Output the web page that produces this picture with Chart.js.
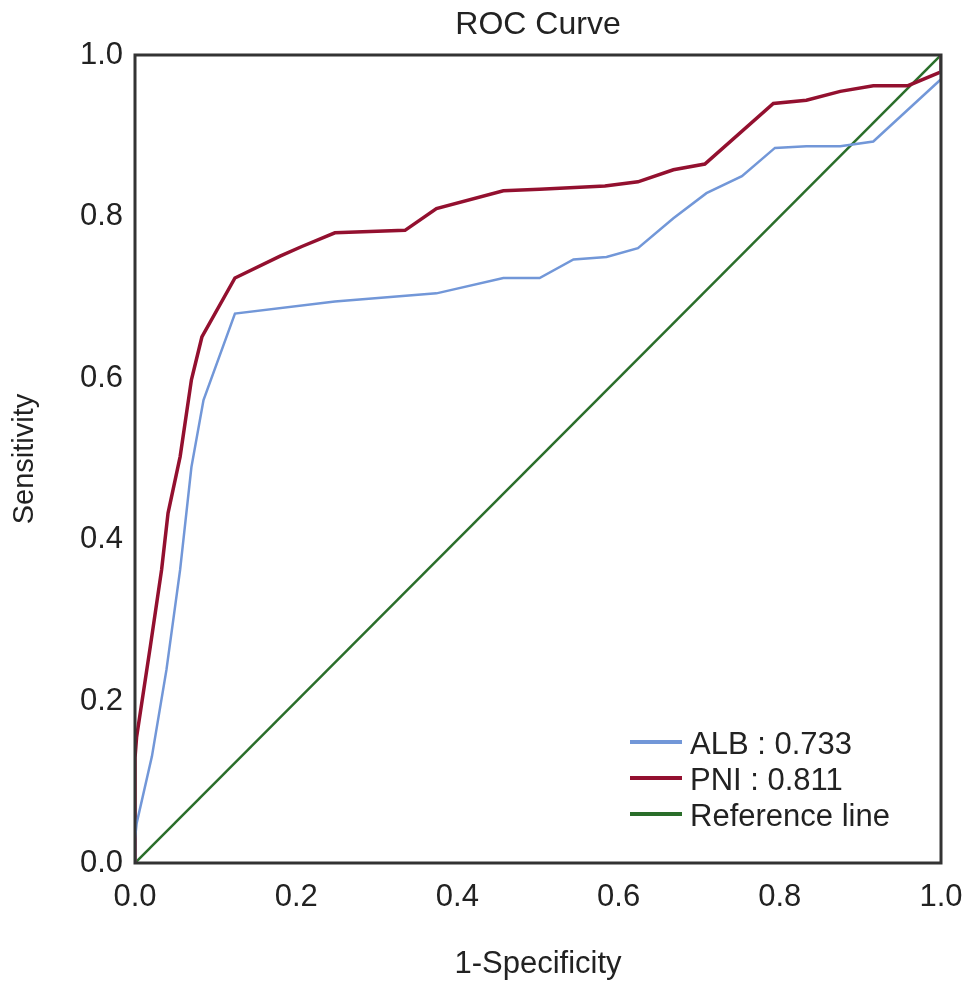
<!DOCTYPE html>
<html>
<head>
<meta charset="utf-8">
<title>ROC Curve</title>
<script src="https://cdn.jsdelivr.net/npm/chart.js@4.4.1/dist/chart.umd.min.js"></script>
<style>
  html, body { margin: 0; padding: 0; background: #fff; }
  #wrap { width: 969px; height: 993px; }
</style>
</head>
<body>
<div id="wrap"><canvas id="rocChart"></canvas></div>
<script>
// values (1-specificity, sensitivity)
var albX = [0, 0, 0.002, 0.021, 0.039, 0.056, 0.070, 0.085, 0.124, 0.248, 0.374, 0.457, 0.502, 0.544, 0.585, 0.624, 0.668, 0.709, 0.753, 0.794, 0.833, 0.875, 0.916, 1.0, 1.0];
var albY = [0, 0.03, 0.049, 0.132, 0.239, 0.363, 0.490, 0.573, 0.680, 0.695, 0.705, 0.724, 0.724, 0.747, 0.750, 0.761, 0.798, 0.829, 0.850, 0.885, 0.887, 0.887, 0.893, 0.970, 1.0];

var pniX = [0, 0, 0.002, 0.019, 0.033, 0.041, 0.056, 0.070, 0.083, 0.124, 0.180, 0.207, 0.248, 0.335, 0.374, 0.457, 0.502, 0.583, 0.624, 0.668, 0.707, 0.792, 0.833, 0.875, 0.916, 0.959, 1.0, 1.0];
var pniY = [0, 0.13, 0.156, 0.268, 0.363, 0.433, 0.503, 0.598, 0.651, 0.724, 0.751, 0.763, 0.780, 0.783, 0.810, 0.832, 0.834, 0.838, 0.843, 0.858, 0.865, 0.940, 0.944, 0.955, 0.962, 0.962, 0.979, 1.0];

var refX = [0, 1];
var refY = [0, 1];

var seriesLabels = ['ALB : 0.733', 'PNI : 0.811', 'Reference line'];
var tickValues = [0, 0.2, 0.4, 0.6, 0.8, 1.0];
var chartTitle = 'ROC Curve';

function toPoints(xs, ys) {
    return xs.map(function(x, i) { return { x: x, y: ys[i] }; });
}

var FONT = "'Liberation Sans', Arial, Helvetica, sans-serif";

// title centred over the plot area (the built-in one centres on the canvas)
var plotTitle = {
    id: 'plotTitle',
    afterDraw: function(chart) {
        var a = chart.chartArea, ctx = chart.ctx;
        ctx.save();
        ctx.font = '32px ' + FONT;
        ctx.fillStyle = '#222';
        ctx.textAlign = 'center';
        ctx.textBaseline = 'middle';
        ctx.fillText(chartTitle, (a.left + a.right) / 2, 25);
        ctx.restore();
    }
};

// box around the plot area
var framePlugin = {
    id: 'frame',
    afterDatasetsDraw: function(chart) {
        var a = chart.chartArea, ctx = chart.ctx;
        ctx.save();
        ctx.strokeStyle = '#333';
        ctx.lineWidth = 3;
        ctx.strokeRect(a.left, a.top, a.right - a.left, a.bottom - a.top);
        ctx.restore();
    }
};

// legend sitting inside the bottom-right corner, no box
var insideLegend = {
    id: 'insideLegend',
    afterDraw: function(chart) {
        var a = chart.chartArea, ctx = chart.ctx;
        var x0 = a.right - 311, y0 = a.bottom - 121, rowH = 36;
        ctx.save();
        ctx.font = '31px ' + FONT;
        ctx.textBaseline = 'middle';
        ctx.textAlign = 'left';
        chart.data.datasets.forEach(function(ds, i) {
            var y = y0 + i * rowH;
            ctx.strokeStyle = ds.borderColor;
            ctx.lineWidth = 4;
            ctx.beginPath();
            ctx.moveTo(x0, y);
            ctx.lineTo(x0 + 52, y);
            ctx.stroke();
            ctx.fillStyle = '#222';
            ctx.fillText(ds.label, x0 + 60, y + 3);
        });
        ctx.restore();
    }
};

var ctx = document.getElementById('rocChart').getContext('2d');

var rocChart = new Chart(ctx, {
    type: 'scatter',
    data: {
        datasets: [{
            label: seriesLabels[0],
            data: toPoints(albX, albY),
            borderColor: '#7297d8',
            borderWidth: 2.5
        }, {
            label: seriesLabels[1],
            data: toPoints(pniX, pniY),
            borderColor: '#93102f',
            borderWidth: 3.5
        }, {
            label: seriesLabels[2],
            data: toPoints(refX, refY),
            borderColor: '#2a6e2a',
            borderWidth: 2.5
        }]
    },
    options: {
        responsive: true,
        maintainAspectRatio: false,
        animation: false,
        showLine: true,
        elements: {
            point: { radius: 0, hoverRadius: 0 },
            line: { tension: 0, fill: false }
        },
        layout: { padding: { left: 0, right: 28, top: 55, bottom: 0 } },
        plugins: {
            legend: { display: false },
            tooltip: { enabled: false },
            title: { display: false }
        },
        scales: {
            x: {
                type: 'linear',
                min: 0,
                max: 1,
                afterBuildTicks: function(scale) {
                    scale.ticks = tickValues.map(function(v) { return { value: v }; });
                },
                afterFit: function(scale) {
                    scale.height = 130;
                    scale.paddingLeft = 0;
                    scale.paddingRight = 0;
                },
                grid: { display: false, drawTicks: false },
                border: { display: false },
                ticks: {
                    padding: 16,
                    color: '#222',
                    font: { family: FONT, size: 31 },
                    callback: function(v) { return Number(v).toFixed(1); }
                },
                title: {
                    display: true,
                    text: '1-Specificity',
                    color: '#222',
                    font: { family: FONT, size: 31 },
                    padding: { top: 0, bottom: 10 }
                }
            },
            y: {
                type: 'linear',
                min: 0,
                max: 1,
                afterBuildTicks: function(scale) {
                    scale.ticks = tickValues.map(function(v) { return { value: v }; });
                },
                afterFit: function(scale) {
                    scale.width = 135;
                    scale.paddingTop = 0;
                    scale.paddingBottom = 0;
                },
                grid: { display: false, drawTicks: false },
                border: { display: false },
                ticks: {
                    padding: 12,
                    color: '#222',
                    font: { family: FONT, size: 31 },
                    callback: function(v) { return Number(v).toFixed(1); }
                },
                title: {
                    display: true,
                    text: 'Sensitivity',
                    color: '#222',
                    font: { family: FONT, size: 29 },
                    padding: { top: 8, bottom: 0 }
                }
            }
        }
    },
    plugins: [framePlugin, insideLegend, plotTitle]
});
</script>
</body>
</html>
